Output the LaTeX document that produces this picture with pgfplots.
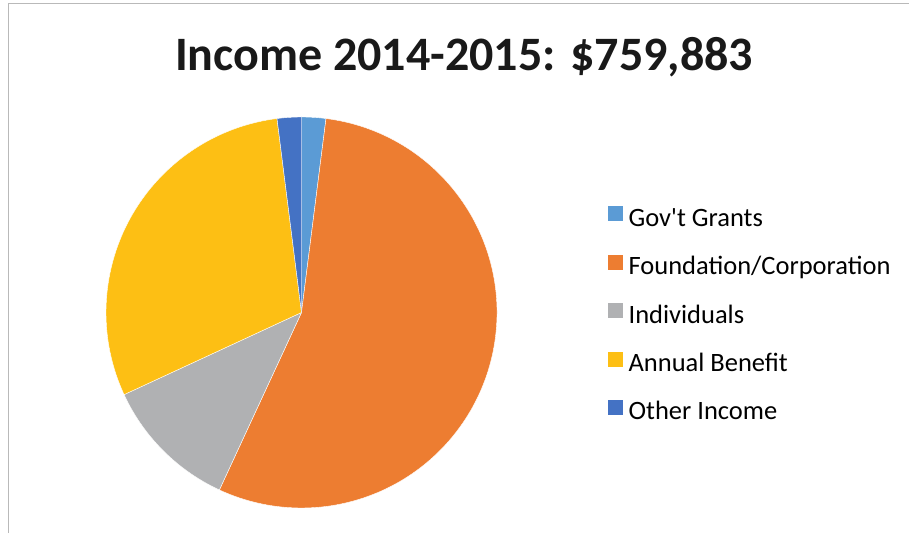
\documentclass[border=0pt]{standalone}
\usepackage{pgfplots}
\usepackage{pgfplotstable}
\pgfplotsset{compat=1.18}
\usepackage{fontspec}
\setmainfont{Carlito}

\definecolor{govblue}{HTML}{5B9BD5}
\definecolor{fndorange}{HTML}{ED7D31}
\definecolor{indgray}{HTML}{B0B1B3}
\definecolor{benyellow}{HTML}{FDBF14}
\definecolor{othblue}{HTML}{4472C4}

% share of income, percent, clockwise from 12 o'clock
\pgfplotstableread[col sep=comma]{
label,value,color
Gov't Grants,2.0,govblue
Foundation/Corporation,54.9,fndorange
Individuals,11.2,indgray
Annual Benefit,29.9,benyellow
Other Income,2.0,othblue
}\incometable

% build the slices from the table (1 axis unit = 1pt), in the preamble
\def\cx{301.5}\def\cy{220.5}\def\rad{195.5pt}
\gdef\cum{0}
\gdef\slices{}
\pgfplotstableforeachcolumnelement{value}\of\incometable\as\v{%
  \pgfplotstablegetelem{\pgfplotstablerow}{color}\of\incometable
  \pgfmathsetmacro\a{90-3.6*\cum}%
  \pgfmathsetmacro\b{90-3.6*(\cum+\v)}%
  \xdef\slices{\unexpanded\expandafter{\slices}%
    \noexpand\fill[\pgfplotsretval, draw=white, line width=0.4pt]
      (axis cs:\cx,\cy) -- ++(\a:\rad)
      arc[start angle=\a, end angle=\b, radius=\rad] -- cycle;}%
  \pgfmathsetmacro\c{\cum+\v}\xdef\cum{\c}%
}

\begin{document}
\begin{tikzpicture}
\begin{axis}[
  width=909pt, height=533pt, scale only axis,
  xmin=0, xmax=909, ymin=0, ymax=533,
  hide axis,
  legend style={
    at={(axis cs:608,327)}, anchor=north west,
    draw=none, fill=none, inner sep=0pt,
    font=\fontsize{26.5}{26.5}\selectfont,
    row sep=24pt, column sep=6pt,
    nodes={inner sep=0pt, text height=18pt, text depth=4.5pt},
  },
  legend cell align=left,
  legend image code/.code={\fill[#1] (0pt,-1pt) rectangle (14pt,13pt);},
]
\path (axis cs:0,0) rectangle (axis cs:909,533);
\draw[gray!55, line width=1pt] (axis cs:8,0) -- (axis cs:8,529.5) -- (axis cs:909,529.5);

\slices

\node[anchor=base, font=\fontsize{48}{48}\selectfont\bfseries, text=black!90]
  at (axis cs:464,462) {Income 2014-2015: \$759,883};

\addlegendimage{govblue}
\addlegendentry{Gov\textquotesingle t Grants}
\addlegendimage{fndorange}
\addlegendentry{Foundation/Corporation}
\addlegendimage{indgray}
\addlegendentry{Individuals}
\addlegendimage{benyellow}
\addlegendentry{Annual Benefit}
\addlegendimage{othblue}
\addlegendentry{Other Income}
\end{axis}
\end{tikzpicture}
\end{document}
